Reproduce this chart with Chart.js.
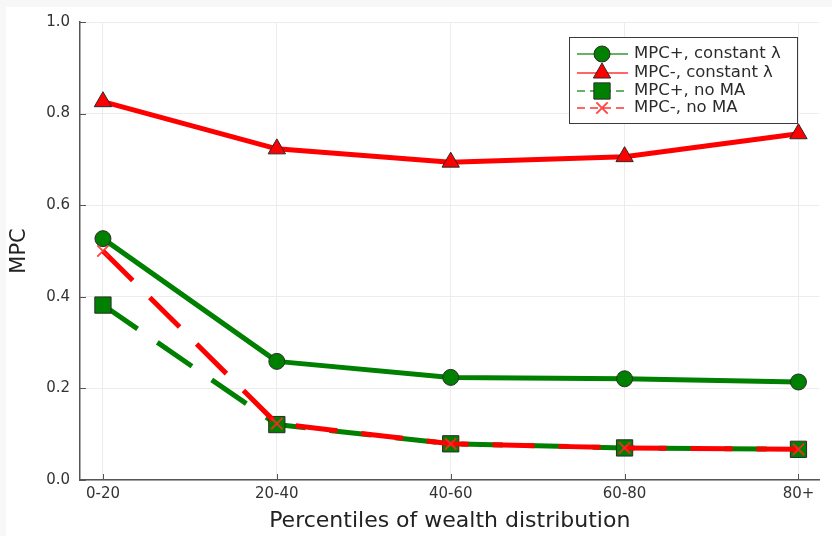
<!DOCTYPE html>
<html>
<head>
<meta charset="utf-8">
<script src="https://cdn.jsdelivr.net/npm/chart.js@4/dist/chart.umd.min.js"></script>
<style>
  html, body { margin: 0; padding: 0; background: #f7f7f7; }
  #wrap { position: absolute; left: 0; top: 0; width: 832px; height: 536px; }
</style>
</head>
<body>
<div id="wrap"><canvas id="c" width="832" height="536"></canvas></div>
<script>
// Wealth percentile groups
const categories = ['0-20', '20-40', '40-60', '60-80', '80+'];
const yTicks = [0.0, 0.2, 0.4, 0.6, 0.8, 1.0];

// Marginal propensities to consume by wealth group
const mpcPlusConstant  = [0.527, 0.259, 0.224, 0.221, 0.214];
const mpcMinusConstant = [0.826, 0.723, 0.694, 0.706, 0.756];
const mpcPlusNoMA      = [0.382, 0.121, 0.079, 0.070, 0.067];
const mpcMinusNoMA     = [0.500, 0.123, 0.079, 0.070, 0.067];

const seriesLabels = ['MPC+, constant λ', 'MPC-, constant λ', 'MPC+, no MA', 'MPC-, no MA'];

const GREEN = '#008000';
const RED = '#ff0000';
const EDGE = '#2b2b2b';
const FONT = '"DejaVu Sans", sans-serif';

const toXY = arr => arr.map((v, i) => ({ x: i, y: v }));

const datasets = [
  {
    label: seriesLabels[0], data: toXY(mpcPlusConstant),
    borderColor: GREEN, backgroundColor: GREEN, borderWidth: 5,
    pointStyle: 'circle', pointRadius: 8, pointBackgroundColor: GREEN,
    pointBorderColor: EDGE, pointBorderWidth: 1, order: 3
  },
  {
    label: seriesLabels[1], data: toXY(mpcMinusConstant),
    borderColor: RED, backgroundColor: RED, borderWidth: 5,
    pointStyle: 'triangle', pointRadius: 10, pointBackgroundColor: RED,
    pointBorderColor: EDGE, pointBorderWidth: 1, order: 2
  },
  {
    label: seriesLabels[2], data: toXY(mpcPlusNoMA),
    borderColor: GREEN, backgroundColor: GREEN, borderWidth: 5, borderDash: [42, 24],
    pointStyle: 'rect', pointRadius: 11.5, pointBackgroundColor: GREEN,
    pointBorderColor: EDGE, pointBorderWidth: 1, order: 1
  },
  {
    label: seriesLabels[3], data: toXY(mpcMinusNoMA),
    borderColor: RED, backgroundColor: RED, borderWidth: 5, borderDash: [42, 24],
    pointStyle: 'crossRot', pointRadius: 8, pointBackgroundColor: RED,
    pointBorderColor: 'rgba(255,40,40,0.85)', pointBorderWidth: 2, order: 0
  }
];

// Page background with a white panel
const panelBg = {
  id: 'panelBg',
  beforeDraw(chart) {
    const ctx = chart.ctx;
    ctx.save();
    ctx.fillStyle = '#f7f7f7';
    ctx.fillRect(0, 0, chart.width, chart.height);
    ctx.fillStyle = '#ffffff';
    ctx.fillRect(6, 7, chart.width - 6, chart.height - 7);
    ctx.restore();
  }
};

// Short tick marks pointing into the plot area
const innerTicks = {
  id: 'innerTicks',
  beforeDatasetsDraw(chart) {
    const { ctx, chartArea, scales } = chart;
    ctx.save();
    ctx.strokeStyle = '#555555';
    ctx.lineWidth = 1;
    ctx.beginPath();
    scales.y.ticks.forEach(t => {
      const py = Math.round(scales.y.getPixelForValue(t.value)) + 0.5;
      ctx.moveTo(chartArea.left, py);
      ctx.lineTo(chartArea.left + 6, py);
    });
    scales.x.ticks.forEach(t => {
      const px = Math.round(scales.x.getPixelForValue(t.value)) + 0.5;
      ctx.moveTo(px, chartArea.bottom);
      ctx.lineTo(px, chartArea.bottom - 6);
    });
    ctx.stroke();
    ctx.restore();
  }
};

// Boxed legend in the upper right
const boxLegend = {
  id: 'boxLegend',
  afterDraw(chart) {
    const ctx = chart.ctx;
    const bx = 569, by = 37, bw = 228, bh = 86;
    ctx.save();
    ctx.fillStyle = '#ffffff';
    ctx.fillRect(bx, by, bw, bh);
    ctx.strokeStyle = '#3a3a3a';
    ctx.lineWidth = 1;
    ctx.strokeRect(bx + 0.5, by + 0.5, bw, bh);
    const rows = [54, 73, 91, 108];
    chart.data.datasets.forEach((ds, i) => {
      const y = rows[i];
      ctx.save();
      ctx.strokeStyle = ds.borderColor;
      ctx.globalAlpha = 0.6;
      ctx.lineWidth = 2;
      ctx.setLineDash(ds.borderDash ? [8, 5] : []);
      ctx.beginPath();
      ctx.moveTo(577, y);
      ctx.lineTo(628, y);
      ctx.stroke();
      ctx.restore();
      ctx.save();
      ctx.fillStyle = ds.pointBackgroundColor;
      ctx.strokeStyle = ds.pointBorderColor;
      ctx.lineWidth = ds.pointBorderWidth;
      Chart.helpers.drawPoint(ctx, {
        pointStyle: ds.pointStyle, radius: ds.pointRadius, rotation: 0,
        borderWidth: ds.pointBorderWidth
      }, 602, y);
      ctx.restore();
      ctx.fillStyle = '#2b2b2b';
      ctx.font = '16.5px ' + FONT;
      ctx.textBaseline = 'middle';
      ctx.textAlign = 'left';
      ctx.fillText(ds.label, 634, y);
    });
    ctx.restore();
  }
};

new Chart(document.getElementById('c'), {
  type: 'line',
  data: { datasets },
  plugins: [panelBg, innerTicks, boxLegend],
  options: {
    responsive: false,
    animation: false,
    layout: { padding: { top: 22, right: 10, left: 0, bottom: 0 } },
    elements: { line: { tension: 0, borderCapStyle: 'butt', borderJoinStyle: 'round' } },
    plugins: { legend: { display: false }, tooltip: { enabled: false } },
    scales: {
      x: {
        type: 'linear',
        min: -0.132, max: 4.121,
        afterBuildTicks(scale) { scale.ticks = categories.map((c, i) => ({ value: i })); },
        afterFit(scale) { scale.height = 56; },
        ticks: {
          callback: v => categories[v],
          font: { family: FONT, size: 15 }, color: '#333333', padding: 5,
          maxRotation: 0, autoSkip: false
        },
        grid: { color: '#ececec', lineWidth: 1, drawTicks: false },
        border: { display: true, color: '#555555', width: 1.5 },
        title: {
          display: true, text: 'Percentiles of wealth distribution',
          font: { family: FONT, size: 22 }, color: '#222222',
          padding: { top: 0, bottom: 2 }
        }
      },
      y: {
        min: 0, max: 1,
        afterBuildTicks(scale) { scale.ticks = yTicks.map(v => ({ value: v })); },
        afterFit(scale) { scale.width = 80; },
        ticks: {
          callback: v => v.toFixed(1),
          font: { family: FONT, size: 15 }, color: '#333333', padding: 10
        },
        grid: { color: '#ececec', lineWidth: 1, drawTicks: false },
        border: { display: true, color: '#555555', width: 1.5 },
        title: {
          display: true, text: 'MPC',
          font: { family: FONT, size: 21 }, color: '#222222',
          padding: { top: 7, bottom: 0 }
        }
      }
    }
  }
});
</script>
</body>
</html>
